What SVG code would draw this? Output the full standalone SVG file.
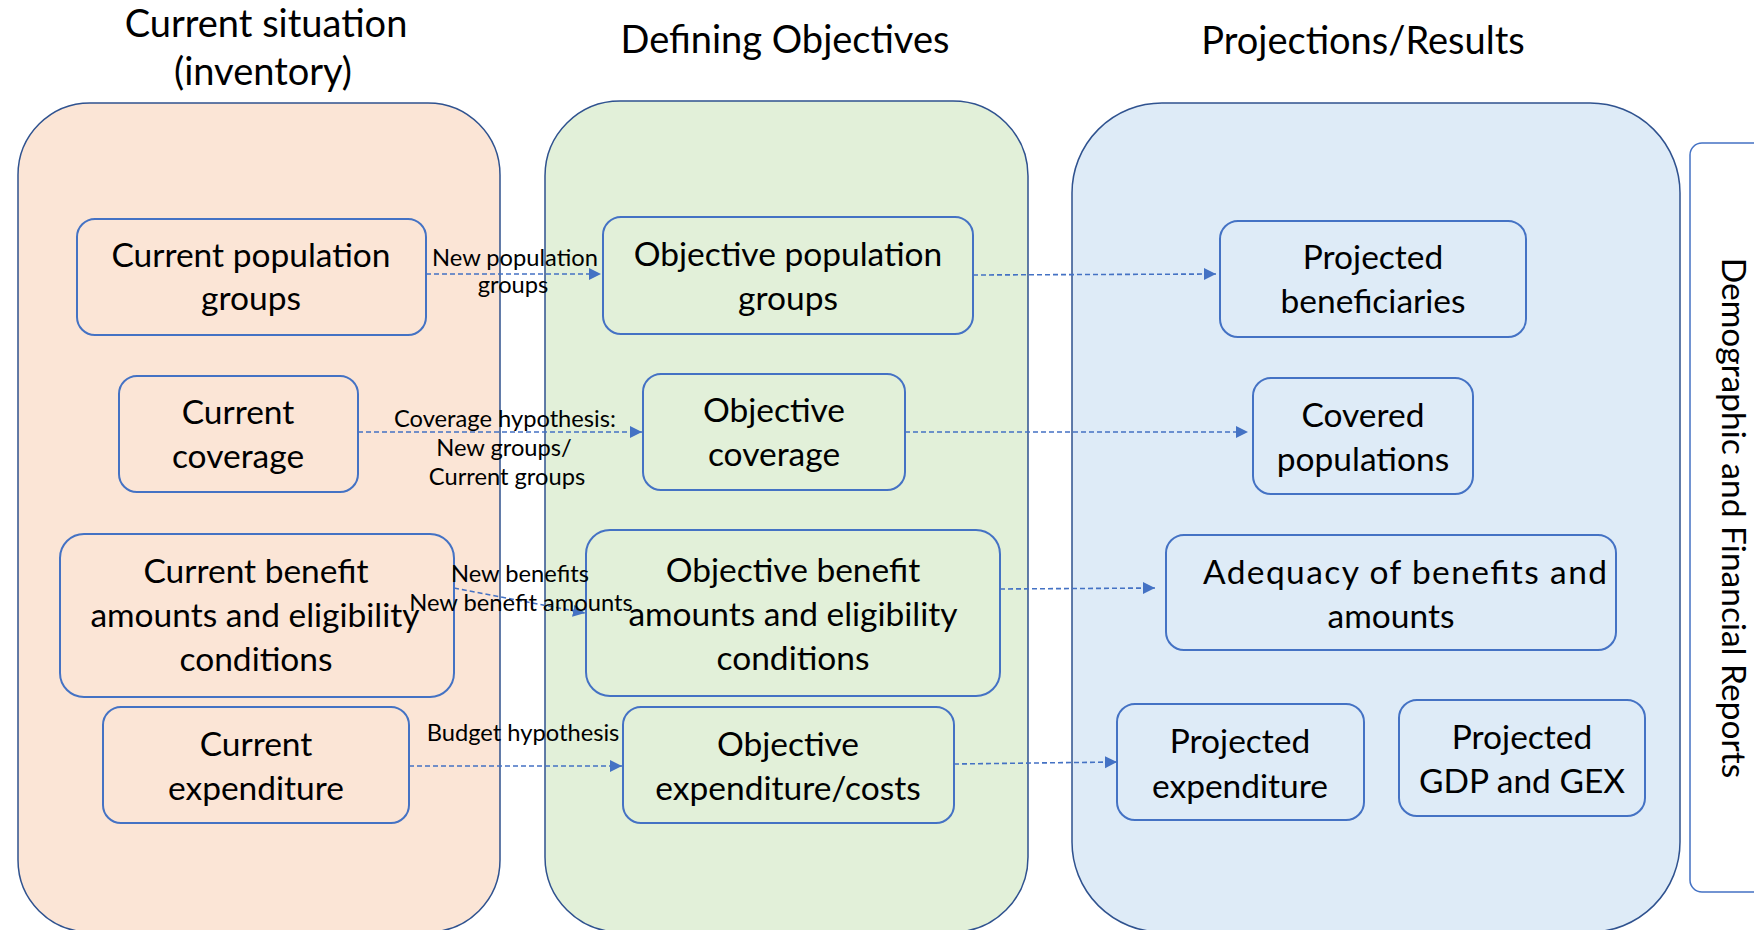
<svg xmlns="http://www.w3.org/2000/svg" width="1754" height="930" viewBox="0 0 1754 930">
<defs>
<style>
.title{font-family:Lato,"Liberation Sans",sans-serif;font-size:38px;fill:#000;text-anchor:middle}
.nt{font-family:Lato,"Liberation Sans",sans-serif;font-size:33.5px;fill:#000;text-anchor:middle}
.lbl{font-family:Lato,"Liberation Sans",sans-serif;font-size:23.7px;fill:#000;text-anchor:middle}
.cont{stroke:#2F528F;stroke-width:1.5}
.node{stroke:#4472C4;stroke-width:2}
.o{fill:#FBE5D6}.g{fill:#E2F0D9}.b{fill:#DEEBF7}
.conn{stroke:#4472C4;stroke-width:1.6;stroke-dasharray:5 3;fill:none;marker-end:url(#arr)}
</style>
<marker id="arr" markerUnits="userSpaceOnUse" markerWidth="13" markerHeight="13" refX="12" refY="6" orient="auto">
<path d="M0,0 L12,6 L0,12 z" fill="#4472C4"/>
</marker>
</defs>
<rect width="1754" height="930" fill="#fff"/>

<g id="titles">
<text class="title" x="266" y="37">Current situation</text>
<text class="title" x="263" y="85">(inventory)</text>
<text class="title" x="785" y="53">Defining Objectives</text>
<text class="title" x="1363" y="54">Projections/Results</text>
</g>

<g id="container-current"><rect class="cont o" x="18" y="103" width="482" height="829" rx="72" ry="72"/></g>
<g id="container-objectives"><rect class="cont g" x="545" y="101" width="483" height="831" rx="75" ry="75"/></g>
<g id="container-projections"><rect class="cont b" x="1072" y="103" width="608" height="829" rx="90" ry="90"/></g>
<g id="reports">
<rect x="1690" y="143" width="90" height="749" rx="12" ry="12" fill="#fff" stroke="#4472C4" stroke-width="1.5"/>
<text class="nt" transform="translate(1722,518) rotate(90)">Demographic and Financial Reports</text>
</g>

<g id="n-cur-pop"><rect class="node o" x="77" y="219" width="349" height="116" rx="18"/>
<text class="nt" x="251" y="267">Current  population</text><text class="nt" x="251" y="310">groups</text></g>
<g id="n-cur-cov"><rect class="node o" x="119" y="376" width="239" height="116" rx="18"/>
<text class="nt" x="238" y="424">Current</text><text class="nt" x="238" y="468">coverage</text></g>
<g id="n-cur-ben"><rect class="node o" x="60" y="534" width="394" height="163" rx="24"/>
<text class="nt" x="256" y="583">Current benefit</text><text class="nt" x="255" y="627">amounts and eligibility</text><text class="nt" x="256" y="671">conditions</text></g>
<g id="n-cur-exp"><rect class="node o" x="103" y="707" width="306" height="116" rx="18"/>
<text class="nt" x="256" y="756">Current</text><text class="nt" x="256" y="800">expenditure</text></g>

<g id="n-obj-pop"><rect class="node g" x="603" y="217" width="370" height="117" rx="18"/>
<text class="nt" x="788" y="266">Objective population</text><text class="nt" x="788" y="310">groups</text></g>
<g id="n-obj-cov"><rect class="node g" x="643" y="374" width="262" height="116" rx="18"/>
<text class="nt" x="774" y="422">Objective</text><text class="nt" x="774" y="466">coverage</text></g>
<g id="n-obj-ben"><rect class="node g" x="586" y="530" width="414" height="166" rx="24"/>
<text class="nt" x="793" y="582">Objective benefit</text><text class="nt" x="793" y="626">amounts and eligibility</text><text class="nt" x="793" y="670">conditions</text></g>
<g id="n-obj-exp"><rect class="node g" x="623" y="707" width="331" height="116" rx="18"/>
<text class="nt" x="788" y="756">Objective</text><text class="nt" x="788" y="800">expenditure/costs</text></g>

<g id="n-proj-ben"><rect class="node b" x="1220" y="221" width="306" height="116" rx="18"/>
<text class="nt" x="1373" y="269">Projected</text><text class="nt" x="1373" y="313">beneficiaries</text></g>
<g id="n-cov-pop"><rect class="node b" x="1253" y="378" width="220" height="116" rx="18"/>
<text class="nt" x="1363" y="427">Covered</text><text class="nt" x="1363" y="471">populations</text></g>
<g id="n-adequacy"><rect class="node b" x="1166" y="535" width="450" height="115" rx="18"/>
<text class="nt" x="1405" y="584" textLength="404" lengthAdjust="spacing">Adequacy of benefits and</text><text class="nt" x="1391" y="628">amounts</text></g>
<g id="n-proj-exp"><rect class="node b" x="1117" y="704" width="247" height="116" rx="18"/>
<text class="nt" x="1240" y="753">Projected</text><text class="nt" x="1240" y="798">expenditure</text></g>
<g id="n-proj-gdp"><rect class="node b" x="1399" y="700" width="246" height="116" rx="18"/>
<text class="nt" x="1522" y="749">Projected</text><text class="nt" x="1522" y="793">GDP and GEX</text></g>

<g id="connectors">
<path class="conn" d="M426,274 L601,274"/>
<path class="conn" d="M358,432 L642,432"/>
<path class="conn" d="M454,588 L585,613"/>
<path class="conn" d="M409,766 L622,766"/>
<path class="conn" d="M973,275 L1216,274"/>
<path class="conn" d="M905,432 L1248,432"/>
<path class="conn" d="M1000,589 L1155,588"/>
<path class="conn" d="M954,764 L1117,762"/>
<text class="lbl" x="515" y="266">New population</text>
<text class="lbl" x="513" y="293">groups</text>
<text class="lbl" x="505" y="427">Coverage hypothesis:</text>
<text class="lbl" x="504" y="456">New groups/</text>
<text class="lbl" x="507" y="485">Current groups</text>
<text class="lbl" x="520" y="582">New benefits</text>
<text class="lbl" x="521" y="611">New benefit amounts</text>
<text class="lbl" x="523" y="741">Budget hypothesis</text>
</g>
</svg>
